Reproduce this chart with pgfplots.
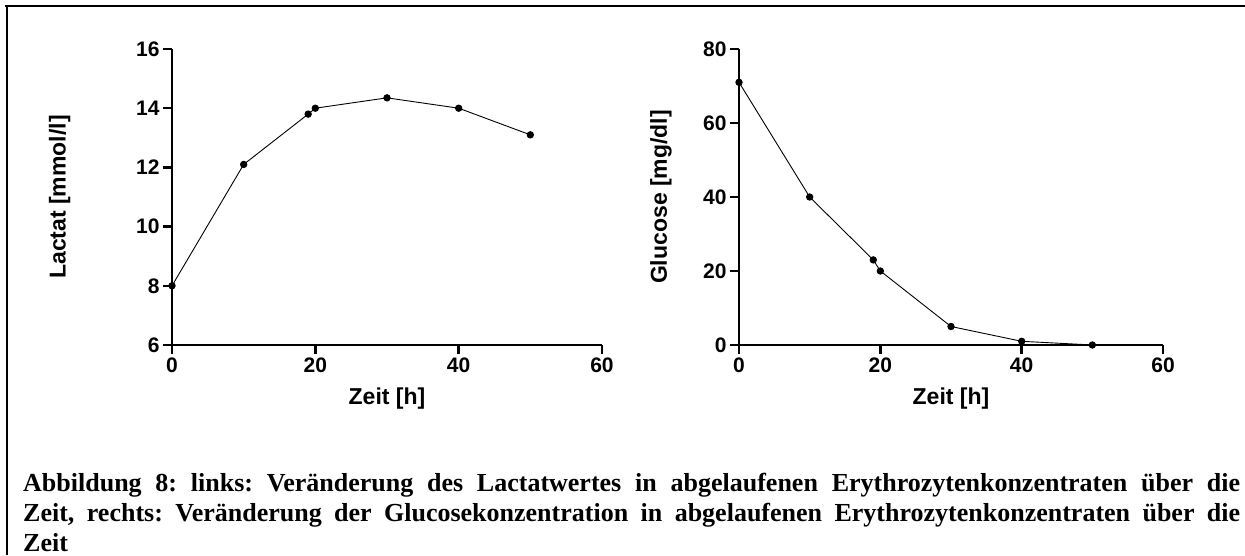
\documentclass[border=0pt]{standalone}
\usepackage{fontspec}
\setmainfont{Liberation Serif}
\newfontfamily\plotfont{Liberation Sans}
\usepackage{pgfplots}
\pgfplotsset{compat=1.18}

% gemeinsamer Stil beider Diagramme (1 px = 1 pt)
\pgfplotsset{
  grafik/.style={
    scale only axis,
    height=296pt,
    anchor=south west,
    axis lines=left,
    axis line style={-, line width=2.5pt},
    tick style={line width=2.5pt, black},
    tick align=outside,
    major tick length=9pt,
    xmin=0, xmax=60, xtick={0,20,40,60},
    ticklabel style={font=\plotfont\bfseries\fontsize{21}{25}\selectfont},
    /pgf/number format/assume math mode=true,
    xlabel={Zeit [h]},
    xlabel style={at={(axis description cs:0.5,0)}, anchor=center, yshift=-54pt,
      font=\plotfont\bfseries\fontsize{23}{27}\selectfont},
    ylabel style={anchor=center, rotate=0,
      font=\plotfont\bfseries\fontsize{23}{27}\selectfont},
    clip=false,
  },
  messung/.style={black, line width=0.9pt, mark=*, mark size=3.2pt,
    mark options={fill=black}},
}

\begin{document}
\begin{tikzpicture}
  \path[use as bounding box] (0pt,0pt) rectangle (1245pt,555pt);

  % Rahmen (nur oben und links sichtbar)
  \draw[line width=2.7pt] (5pt,549pt) -- (1245pt,549pt);
  \draw[line width=2.7pt] (7pt,550pt) -- (7pt,0pt);

  % links: Lactat
  \begin{axis}[grafik,
      at={(172pt,210pt)}, width=430pt,
      ymin=6, ymax=16, ytick={6,8,10,12,14,16},
      ylabel={Lactat [mmol/l]},
      ylabel style={at={(axis description cs:-0.261,0.5)}},
    ]
    \addplot[messung] coordinates {
      (0, 8.0)
      (10, 12.1)
      (19, 13.8)
      (20, 14.0)
      (30, 14.35)
      (40, 14.0)
      (50, 13.1)
    };
  \end{axis}

  % rechts: Glucose
  \begin{axis}[grafik,
      at={(739pt,210pt)}, width=424pt,
      ymin=0, ymax=80, ytick={0,20,40,60,80},
      ylabel={Glucose [mg/dl]},
      ylabel style={at={(axis description cs:-0.184,0.5)}},
    ]
    \addplot[messung] coordinates {
      (0, 71)
      (10, 40)
      (19, 23)
      (20, 20)
      (30, 5)
      (40, 1)
      (50, 0)
    };
  \end{axis}

  % Bildunterschrift
  \node[anchor=base west, inner sep=0pt] at (23pt,64pt) {%
    \parbox[t]{1217pt}{\bfseries\fontsize{26}{30}\selectfont
      \frenchspacing\hyphenpenalty=10000
      Abbildung 8: links: Veränderung des Lactatwertes in abgelaufenen Erythrozytenkonzentraten über die\linebreak
      Zeit, rechts: Veränderung der Glucosekonzentration in abgelaufenen Erythrozytenkonzentraten über die\linebreak
      Zeit}};
\end{tikzpicture}
\end{document}
